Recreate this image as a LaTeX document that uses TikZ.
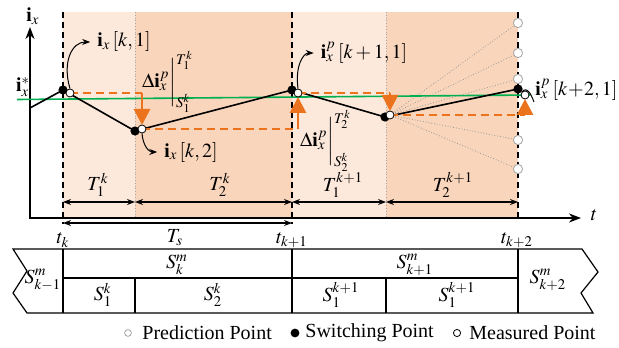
\documentclass[tikz,border=0pt]{standalone}
\usepackage{amsmath}
\usepackage{mathptmx}
\usepackage{fontspec}
\setmainfont{Liberation Serif}
\definecolor{peachlight}{RGB}{252,233,220}
\definecolor{peachdark}{RGB}{249,213,187}
\definecolor{ctrlorange}{RGB}{236,115,30}
\definecolor{refgreen}{RGB}{0,176,80}
\usetikzlibrary{arrows.meta,positioning,calc}
\tikzset{
  swdot/.style={circle, fill=black, inner sep=0pt, minimum size=4.6pt},
  msdot/.style={circle, draw=black, fill=white, inner sep=0pt, minimum size=4pt, line width=0.4pt},
  prdot/.style={circle, draw=gray!70, fill=white, inner sep=0pt, minimum size=4.6pt, line width=0.4pt},
  ordash/.style={draw=ctrlorange, line width=1pt, dash pattern=on 4pt off 2.5pt},
  orarrow/.style={draw=ctrlorange, line width=1.4pt, -{Triangle[width=8pt,length=8pt]}},
  dimarrow/.style={{Stealth[length=4pt,width=3pt]}-{Stealth[length=4pt,width=3pt]}, line width=0.6pt},
  labarrow/.style={-{Stealth[length=4pt,width=3pt]}, line width=0.5pt},
  fanline/.style={gray!80, densely dotted, line width=0.4pt},
  period/.style={dash pattern=on 3pt off 2pt, line width=0.8pt},
}
\begin{document}
\begin{tikzpicture}[x=0.5pt,y=-0.5pt]
  \useasboundingbox (0,0) rectangle (619,347);

  % Shaded sub-periods
  \fill[peachlight] (63,12) rectangle (135,218);
  \fill[peachdark] (135,12) rectangle (292,218);
  \fill[peachlight] (292,12) rectangle (386,218);
  \fill[peachdark] (386,12) rectangle (518,218);
  \draw[gray!70, densely dotted, line width=0.4pt] (135,12) -- (135,218);
  \draw[gray!70, densely dotted, line width=0.4pt] (386,12) -- (386,218);
  \draw[period] (63,12) -- (63,224);
  \draw[period] (292,12) -- (292,224);
  \draw[period] (518,12) -- (518,218);

  % Axes
  \draw[line width=1pt, {Stealth[length=6pt,width=4.5pt]}-{Stealth[length=6pt,width=4.5pt]}] (30,27) -- (30,218) -- (581,218);
  \node (ilab) at (33,16) {$\mathbf{i}_x$};
  \node (tlab) at (594,215) {$t$};
  \node (istar) at (23,87) {$\mathbf{i}_x^*$};

  % Point positions
  \coordinate (s0) at (30,108);
  \coordinate (s1) at (63,90);   \coordinate (m1) at (70,93);
  \coordinate (s2) at (135,131); \coordinate (m2) at (142,129);
  \coordinate (s3) at (292,90);  \coordinate (m3) at (298,93);
  \coordinate (s4) at (385,117); \coordinate (m4) at (390,115);
  \coordinate (s5) at (518,89);  \coordinate (m5) at (525,95);
  \foreach \y [count=\n] in {23,53,79,140,169}
    \coordinate (p\n) at (518,\y);
  \coordinate (g1) at (17,99.5);
  \coordinate (g2) at (530,95);

  % Fan of predictions
  \foreach \n in {1,...,5}
    \draw[fanline] (m4) -- (p\n);

  % Reference and current trajectory
  \draw[refgreen, line width=0.8pt] (g1) -- (g2);
  \draw[line width=0.8pt] (s0) -- (s1) -- (s2) -- (s3) -- (s4) -- (s5);

  % Prediction errors
  \draw[ordash] (m1) -- (m1 -| m2);
  \draw[orarrow, shorten >=2pt] (m1 -| m2) -- (m2);
  \draw[ordash] (m2) -- (m2 -| m3);
  \draw[orarrow, shorten >=2pt] (m2 -| m3) -- (m3);
  \draw[ordash] (m3) -- (m3 -| m4);
  \draw[orarrow, shorten >=2pt] (m3 -| m4) -- (m4);
  \draw[ordash] (m4) -- (m4 -| m5);
  \draw[orarrow, shorten >=2pt] (m4 -| m5) -- (m5);

  % Points
  \foreach \n in {1,...,5} {
    \node[swdot] (sw\n) at (s\n) {};
    \node[msdot] (ms\n) at (m\n) {};
    \node[prdot] (pr\n) at (p\n) {};
  }

  % Labels
  \node (d1) at (168,82) {$\Delta\mathbf{i}_x^p\bigg|_{S_1^k}^{T_1^k}$};
  \node (d2) at (326,141) {$\Delta\mathbf{i}_x^p\bigg|_{S_2^k}^{T_2^k}$};
  \node (lab1) at (124,42) {$\mathbf{i}_x\left[k,1\right]$};
  \node (lab2) at (191,152) {$\mathbf{i}_x\left[k,2\right]$};
  \node (lab3) at (364,53) {$\mathbf{i}_x^p\left[k+1,1\right]$};
  \node[anchor=west, inner sep=0.5pt] (lab4) at (534,90) {$\mathbf{i}_x^p\left[k\!+\!2,1\right]$};
  \draw[labarrow] (ms1.north) .. controls (62,62) and (72,42) .. (lab1.west);
  \draw[labarrow] (ms2.south) .. controls (143,146) and (149,152) .. (lab2.west);
  \draw[labarrow] (ms3.north) .. controls (295,66) and (303,53) .. (lab3.west);
  \draw[line width=0.5pt] (ms5.north west) .. controls (527,86) and (531,94) .. (lab4.south west);

  % Sub-period widths
  \node (T1k) at (98,185) {$T_1^k$};
  \node (T2k) at (220,185) {$T_2^k$};
  \node (T1k1) at (343,185) {$T_1^{k+1}$};
  \node (T2k1) at (453,185) {$T_2^{k+1}$};
  \draw[dimarrow] (63,202) -- (135,202);
  \draw[dimarrow] (135,202) -- (292,202);
  \draw[dimarrow] (292,202) -- (386,202);
  \draw[dimarrow] (386,202) -- (518,202);
  \draw[dimarrow] (63,223) -- (292,223);
  \node (tk) at (63,240) {$t_k$};
  \node (Ts) at (175,238) {$T_s$};
  \node (tk1) at (292,240) {$t_{k+1}$};
  \node (tk2) at (517,240) {$t_{k+2}$};

  % Switching sequence table
  \draw[line width=0.6pt] (13,249) -- (582,249) -- (598,272) -- (581,293) -- (593,313) -- (27,313) -- (13,293) -- (27,271) -- cycle;
  \draw[line width=0.6pt] (63,278) -- (518,278);
  \draw[line width=0.6pt] (63,249) -- (63,313);
  \draw[line width=0.6pt] (292,249) -- (292,313);
  \draw[line width=0.6pt] (518,249) -- (518,313);
  \draw[line width=0.6pt] (135,278) -- (135,313);
  \draw[line width=0.6pt] (386,278) -- (386,313);
  \node (Skm1) at (43,280) {$S_{k-1}^m$};
  \node (Sk) at (177,265) {$S_k^m$};
  \node (S1k) at (103,295) {$S_1^k$};
  \node (S2k) at (213,295) {$S_2^k$};
  \node (Sk1) at (415,265) {$S_{k+1}^m$};
  \node (S1k1a) at (341,295) {$S_1^{k+1}$};
  \node (S1k1b) at (457,295) {$S_1^{k+1}$};
  \node (Sk2) at (548,280) {$S_{k+2}^m$};

  % Legend
  \node[prdot, minimum size=3.4pt] (lpr) at (128,333) {};
  \node[anchor=west, inner sep=0pt] (lprt) at (142,333) {Prediction Point};
  \node[swdot, minimum size=4.4pt] (lsw) at (295,333) {};
  \node[anchor=west, inner sep=0pt] (lswt) at (305,333) {Switching Point};
  \node[msdot, minimum size=3.6pt] (lms) at (457,333) {};
  \node[anchor=west, inner sep=0pt] (lmst) at (469,333) {Measured Point};
\end{tikzpicture}
\end{document}
